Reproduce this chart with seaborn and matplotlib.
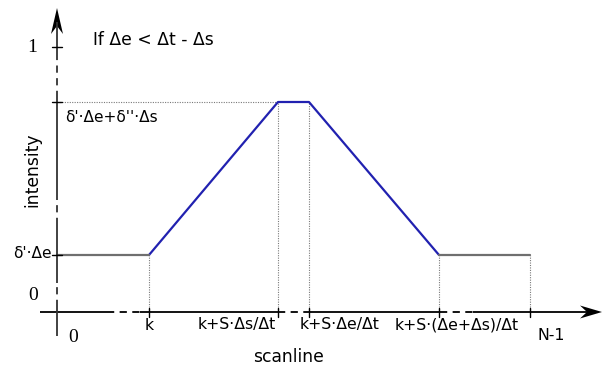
import matplotlib
matplotlib.use("Agg")
import matplotlib.pyplot as plt
from matplotlib.patches import Polygon
import seaborn as sns
import pandas as pd

sns.set_theme(style="white")
plt.rcParams['font.family'] = ['DejaVu Sans']
plt.rcParams['text.color'] = 'black'

# ---- data (units; origin at axis crossing) ----
x_knots = [0, 92, 221, 252, 382, 473]          # 0, k, k+SΔs/Δt, k+SΔe/Δt, k+S(Δe+Δs)/Δt, N-1
low_level = 57                                 # δ'·Δe
high_level = 210                               # δ'·Δe+δ''·Δs
one_level = 265                                # 1

ramp_x = [x_knots[1], x_knots[2], x_knots[3], x_knots[4]]
ramp_y = [low_level, high_level, high_level, low_level]
left_x = [x_knots[0], x_knots[1]]
left_y = [low_level, low_level]
right_x = [x_knots[4], x_knots[5]]
right_y = [low_level, low_level]

xtick_pos = [92, 221, 252, 382, 473]
xtick_labels = ["k", "k+S·Δs/Δt", "k+S·Δe/Δt", "k+S·(Δe+Δs)/Δt", "N-1"]
xlabel_pos = [92, 180, 283, 400, 494]
xlabel_y = [-13, -13, -13, -13, -23]
ytick_pos = [one_level, high_level, low_level]

# axis broken (dashed) portions
xaxis_solid = [(-17, 50), (83, 221), (250, 383), (416, 530)]
xaxis_dash = [(50, 83), (221, 250), (383, 416)]
yaxis_solid = [(-24, 5), (29, 87), (112, 214), (254, 290)]
yaxis_dash = [(5, 29), (87, 112), (214, 254)]

fig = plt.figure(figsize=(6.13, 3.77), dpi=100)
ax = fig.add_axes([0, 0, 1, 1])
ax.set_xlim(-57, 556)
ax.set_ylim(-65, 312)
ax.axis("off")

gray = "#6f6f6f"
blue = "#2121b0"
dot_c = "#7a7a7a"

# guide dotted lines
ax.plot([0, x_knots[2]], [high_level, high_level], ls=(0, (1, 1.2)), color=dot_c, lw=0.8)
for xv, top in zip(x_knots[1:], [low_level, high_level, high_level, low_level, low_level]):
    ax.plot([xv, xv], [0, top], ls=(0, (1, 1.2)), color=dot_c, lw=0.8)

# curve
df_ramp = pd.DataFrame({"x": ramp_x, "y": ramp_y})
sns.lineplot(data=df_ramp, x="x", y="y", sort=False, color=blue, lw=1.6, ax=ax)
sns.lineplot(x=left_x, y=left_y, sort=False, color=gray, lw=1.6, ax=ax)
sns.lineplot(x=right_x, y=right_y, sort=False, color=gray, lw=1.6, ax=ax)

# axes
for a, b in xaxis_solid:
    ax.plot([a, b], [0, 0], color="black", lw=1.3, solid_capstyle="butt")
for a, b in xaxis_dash:
    ax.plot([a, b], [0, 0], color="black", lw=1.3, ls=(0, (4, 3)))
for a, b in yaxis_solid:
    ax.plot([0, 0], [a, b], color="#333333", lw=1.3, solid_capstyle="butt")
for a, b in yaxis_dash:
    ax.plot([0, 0], [a, b], color="#333333", lw=1.3, ls=(0, (4, 3)))

# concave arrow heads
xt = 545
ax.add_patch(Polygon([(xt, 0), (xt - 22, 6.5), (xt - 15, 0), (xt - 22, -6.5)],
                     closed=True, color="black", lw=0))
yt = 304
ax.add_patch(Polygon([(0, yt), (-6, yt - 26), (0, yt - 18), (6, yt - 26)],
                     closed=True, color="black", lw=0))

# ticks
for xv in xtick_pos:
    ax.plot([xv, xv], [-5, 4], color="black", lw=1.0)
for yv in ytick_pos:
    ax.plot([-5, 5], [yv, yv], color="black", lw=1.0)

fs = 11.3
for xv, yv, lab in zip(xlabel_pos, xlabel_y, xtick_labels):
    ax.text(xv, yv, lab, ha="center", va="center", fontsize=fs)
serif = ["Liberation Serif", "DejaVu Serif"]
ax.text(16, -26, "0", ha="center", va="center", fontsize=14, family=serif)
ax.text(-24, 17, "0", ha="center", va="center", fontsize=14, family=serif)
ax.text(-25, one_level, "1", ha="center", va="center", fontsize=14, family=serif)
ax.text(-5, low_level + 2, "δ'·Δe", ha="right", va="center", fontsize=11.1)
ax.text(8, 194, "δ'·Δe+δ''·Δs", ha="left", va="center", fontsize=11.1)
ax.text(36, 272, "If Δe < Δt - Δs", ha="left", va="center", fontsize=12.3)
ax.text(231, -45, "scanline", ha="center", va="center", fontsize=12.3)
ax.text(-25, 142, "intensity", ha="center", va="center", rotation=90, fontsize=12.3)

fig.savefig("out.png", dpi=100)
